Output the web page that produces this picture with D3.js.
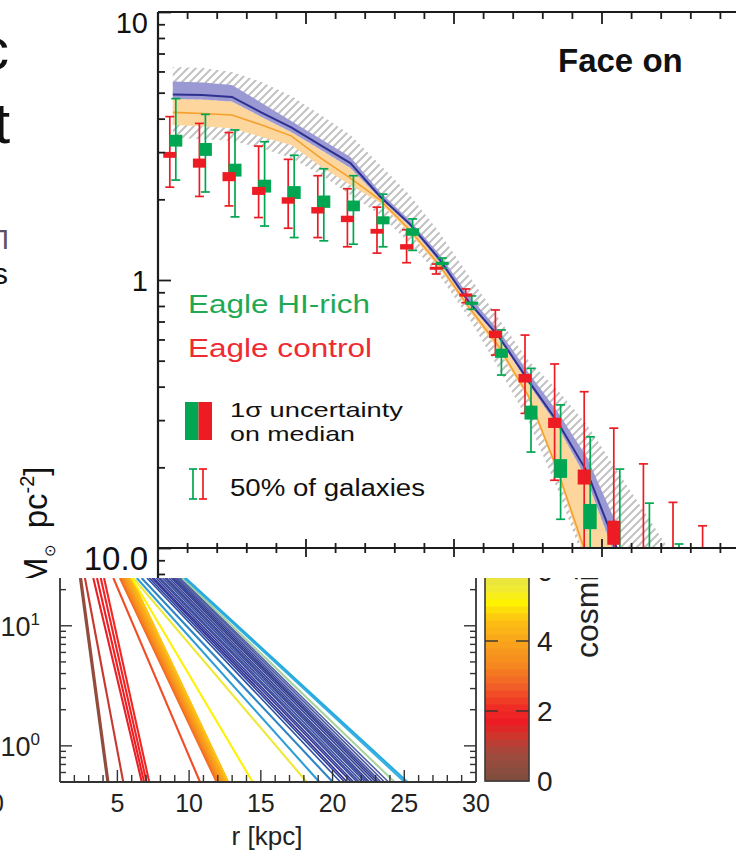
<!DOCTYPE html>
<html>
<head>
<meta charset="utf-8">
<script src="https://cdn.jsdelivr.net/npm/d3@7"></script>
<style>
  html, body { margin: 0; padding: 0; background: #fff; }
  svg { display: block; font-family: "Liberation Sans", Arial, Helvetica, sans-serif; }
</style>
</head>
<body>
<svg id="fig" width="736" height="851"></svg>
<script>
// ------------------------------------------------------------------
// Upper panel: face-on stellar surface density profiles
// ------------------------------------------------------------------
// radial bins (in units of the scale radius)
const binR = [0.1, 0.3, 0.5, 0.7, 0.9, 1.1, 1.3, 1.5, 1.7, 1.9, 2.1, 2.3, 2.5, 2.7, 2.9, 3.1, 3.3, 3.5, 3.7];

// Eagle control sample: median, 25th / 75th percentile, 1-sigma error on median (dex)
const controlMedian = [2.93, 2.73, 2.43, 2.15, 1.98, 1.82, 1.69, 1.52, 1.33, 1.106, 0.879, 0.627, 0.430, 0.293, 0.184, 0.114, 0.085, 0.070, 0.060];
const controlLow    = [2.22, 2.05, 1.89, 1.71, 1.56, 1.44, 1.33, 1.26, 1.16, 1.053, 0.823, 0.525, 0.318, 0.179, 0.090, 0.080, 0.070, 0.060, 0.050];
const controlHigh   = [4.07, 3.84, 3.55, 3.16, 2.82, 2.45, 2.19, 1.87, 1.54, 1.147, 0.926, 0.773, 0.623, 0.486, 0.383, 0.280, 0.206, 0.148, 0.121];
const controlSigma  = [0.011, 0.017, 0.017, 0.015, 0.012, 0.012, 0.012, 0.009, 0.010, 0.004, 0.006, 0.014, 0.016, 0.019, 0.028, 0.045, 0.050, 0.050, 0.050];

// Eagle HI-rich sample
const hiRichMedian = [3.31, 3.07, 2.57, 2.24, 2.12, 1.96, 1.89, 1.67, 1.51, 1.154, 0.819, 0.533, 0.320, 0.198, 0.131, 0.085, 0.070, 0.060, 0.050];
const hiRichLow    = [2.36, 2.13, 1.72, 1.59, 1.44, 1.40, 1.36, 1.33, 1.29, 1.106, 0.777, 0.442, 0.228, 0.128, 0.070, 0.060, 0.050, 0.050, 0.040];
const hiRichHigh   = [4.75, 4.15, 3.63, 3.28, 2.92, 2.60, 2.45, 2.09, 1.69, 1.208, 0.872, 0.651, 0.468, 0.342, 0.260, 0.197, 0.147, 0.1035, 0.090];
const hiRichSigma  = [0.022, 0.024, 0.024, 0.024, 0.024, 0.023, 0.020, 0.015, 0.014, 0.006, 0.006, 0.017, 0.026, 0.035, 0.047, 0.060, 0.060, 0.060, 0.060];

// Observed reference profiles (bands with central line)
const modelR = [0.1, 0.3, 0.5, 0.7, 0.9, 1.1, 1.3, 1.5, 1.7, 1.9, 2.1, 2.3, 2.5, 2.7, 2.9, 3.1];
const blueHigh   = [5.50, 5.46, 5.34, 4.58, 3.92, 3.36, 2.88, 2.13, 1.67, 1.25, 0.872, 0.651, 0.454, 0.322, 0.217, 0.122];
const blueMid    = [4.92, 4.90, 4.82, 4.21, 3.71, 3.18, 2.73, 2.05, 1.62, 1.20, 0.828, 0.618, 0.423, 0.295, 0.192, 0.100];
const blueLow    = [4.74, 4.72, 4.63, 4.06, 3.57, 3.06, 2.62, 2.02, 1.59, 1.17, 0.814, 0.608, 0.413, 0.285, 0.179, 0.090];
const orangeHigh = [4.74, 4.72, 4.63, 4.06, 3.57, 3.06, 2.62, 2.02, 1.59, 1.17, 0.814, 0.608, 0.413, 0.285, 0.179, 0.090];
const orangeMid  = [4.22, 4.18, 4.13, 3.79, 3.45, 2.85, 2.40, 1.99, 1.54, 1.14, 0.793, 0.567, 0.372, 0.195, 0.092, 0.045];
const orangeLow  = [3.79, 3.75, 3.68, 3.42, 3.19, 2.65, 2.26, 1.94, 1.50, 1.11, 0.773, 0.548, 0.363, 0.189, 0.086, 0.042];

// hatched envelope
const hatchR    = [0.1, 0.3, 0.5, 0.7, 0.9, 1.1, 1.3, 1.5, 1.7, 1.9, 2.1, 2.3, 2.5, 2.7, 2.9, 3.1, 3.3, 3.5];
const hatchHigh = [6.23, 6.18, 5.97, 5.48, 4.86, 4.13, 3.48, 2.69, 2.08, 1.51, 1.04, 0.721, 0.503, 0.389, 0.288, 0.195, 0.133, 0.090];
const hatchLow  = [3.39, 3.36, 3.30, 3.11, 2.85, 2.47, 2.08, 1.75, 1.37, 1.04, 0.721, 0.469, 0.300, 0.165, 0.083, 0.042, 0.030, 0.020];

// axis ticks
const yMajorTicks = [0.1, 1, 10];
const yMinorTicks = [0.08, 0.09, 0.2, 0.3, 0.4, 0.5, 0.6, 0.7, 0.8, 0.9, 2, 3, 4, 5, 6, 7, 8, 9];
const yTickLabels = [{ v: 10, t: "10" }, { v: 1, t: "1" }];
const xTickStep = 0.2;
const xMajorEvery = 5;

const legendHiRich  = "Eagle HI-rich";
const legendControl = "Eagle control";
const legendBox1    = "1\u03c3 uncertainty";
const legendBox2    = "on median";
const legendRange   = "50% of galaxies";
const panelTitle    = "Face on";

// ------------------------------------------------------------------
// Lower panel: exponential disc profiles coloured by cosmic time
// Each profile: radius [kpc] where it crosses sigmaTop and sigmaBottom, time [Gyr]
// ------------------------------------------------------------------
const sigmaTop = 25, sigmaBottom = 0.5;
const profTopR = [2.39, 2.47, 2.74, 3.32, 3.58, 3.84, 4.07, 4.72, 5.18, 5.27, 5.36, 5.44, 5.55, 5.63, 5.74, 5.85, 5.97, 6.00, 6.11, 6.35, 6.69,
                  7.06, 7.23, 7.41, 7.52, 7.70, 7.87, 7.98, 8.16, 8.31, 8.42, 8.60, 8.77, 8.90, 9.04, 9.18, 9.33, 9.41, 9.52, 9.66, 9.75];
const profBotR = [4.30, 4.38, 5.41, 6.70, 6.86, 7.03, 7.22, 10.76, 11.92, 12.01, 12.12, 12.20, 12.31, 12.40, 12.52, 12.61, 12.73, 14.43, 18.20, 19.08, 20.01,
                  20.55, 20.84, 21.02, 21.30, 21.47, 21.71, 21.86, 22.05, 22.27, 22.43, 22.58, 22.81, 23.02, 23.19, 23.37, 23.62, 23.90, 24.32, 25.02, 25.22];
const profTime = [0.3, 0.6, 1.2, 1.6, 1.75, 1.9, 2.0, 2.5, 2.9, 3.1, 3.3, 3.5, 3.7, 3.9, 4.1, 4.3, 4.6, 5.1, 5.6, 7.8, 8.2,
                  9.0, 9.3, 9.5, 9.7, 9.9, 10.2, 10.4, 10.6, 10.8, 11.0, 11.1, 11.3, 11.5, 11.7, 11.9, 12.1, 12.3, 12.8, 13.3, 13.6];

const lowXTicks = [5, 10, 15, 20, 25, 30];
const lowYMajor = [1, 10];
const lowYMinor = [0.5, 0.6, 0.7, 0.8, 0.9, 2, 3, 4, 5, 6, 7, 8, 9, 20];
const cbarTicks = [0, 2, 4, 6];
const cbarLabel = "cosmic time [Gyr]";
const lowXLabel = "r [kpc]";

// colour map of cosmic time
const timeStops  = [0, 0.8, 1.3, 1.7, 2.1, 2.7, 3.3, 4.0, 4.6, 5.1, 5.5, 6.0, 7.0, 7.8, 8.6, 9.5, 10.5, 11.5, 12.4, 12.8, 13.3, 13.7];
const timeColors = ["#7c4e3e", "#a04a3c", "#cf352d", "#ed1c24", "#ee2c25", "#f15d26", "#f6861f", "#f9a41b", "#fcc113", "#fff200", "#f1ea32", "#e2df4c",
                    "#86c7a2", "#2d9dd8", "#2f6cb4", "#2e3192", "#3c4f9f", "#2f3a8e", "#5564ab", "#a9d39e", "#38b0e0", "#1fa9e1"];

// ------------------------------------------------------------------
const svg = d3.select("#fig");
const W = 736, H = 851;
const cutY = 578;              // top edge of the lower panel
const ink = "#1c1c1c";
const green = "#00a651", red = "#ed1c24";

svg.append("rect").attr("width", W).attr("height", H).attr("fill", "#fff");

const xMain = d3.scaleLinear().domain([0, 4]).range([158, 750]);
const yMain = d3.scaleLog().domain([0.1, 10]).range([548, 12]);

const defs = svg.append("defs");
defs.append("clipPath").attr("id", "clipMain").append("rect")
  .attr("x", xMain(0)).attr("y", yMain(10))
  .attr("width", W - xMain(0)).attr("height", yMain(0.1) - yMain(10));

const pat = defs.append("pattern").attr("id", "hatch")
  .attr("patternUnits", "userSpaceOnUse").attr("width", 8).attr("height", 8);
pat.append("path").attr("d", "M-2,2 L2,-2 M0,8 L8,0 M6,10 L10,6")
  .attr("stroke", "#c2c2c2").attr("stroke-width", 2);

// ---- model bands ----
const plot = svg.append("g").attr("clip-path", "url(#clipMain)");

const band = (rs, lo, hi) => d3.area()
  .x((d, i) => xMain(rs[i])).y0((d, i) => yMain(lo[i])).y1((d, i) => yMain(hi[i]))(rs);
const curve = (rs, v) => d3.line().x((d, i) => xMain(rs[i])).y((d, i) => yMain(v[i]))(rs);

plot.append("path").attr("d", band(hatchR, hatchLow, hatchHigh)).attr("fill", "url(#hatch)");
plot.append("path").attr("d", band(modelR, orangeLow, orangeHigh)).attr("fill", "#fdd69e");
plot.append("path").attr("d", band(modelR, blueLow, blueHigh)).attr("fill", "#9b99d3");
plot.append("path").attr("d", curve(modelR, orangeMid)).attr("fill", "none")
  .attr("stroke", "#f6a02c").attr("stroke-width", 1.6);
plot.append("path").attr("d", curve(modelR, blueMid)).attr("fill", "none")
  .attr("stroke", "#2f3190").attr("stroke-width", 2);

// ---- binned medians ----
function errorBars(g, med, lo, hi, color, dx) {
  const gg = g.append("g").attr("stroke", color).attr("stroke-width", 1.7).attr("fill", "none");
  binR.forEach((r, i) => {
    const x = xMain(r) + dx;
    gg.append("line").attr("x1", x).attr("x2", x).attr("y1", yMain(lo[i])).attr("y2", yMain(hi[i]));
    gg.append("line").attr("x1", x - 4.5).attr("x2", x + 4.5).attr("y1", yMain(lo[i])).attr("y2", yMain(lo[i]));
    gg.append("line").attr("x1", x - 4.5).attr("x2", x + 4.5).attr("y1", yMain(hi[i])).attr("y2", yMain(hi[i]));
  });
}
function medianBoxes(g, med, sig, color, dx) {
  binR.forEach((r, i) => {
    const top = yMain(med[i] * Math.pow(10, sig[i]));
    const bot = yMain(med[i] / Math.pow(10, sig[i]));
    const h = Math.max(bot - top, 3);
    const yc = (top + bot) / 2;
    g.append("rect").attr("x", xMain(r) + dx - 6.5).attr("width", 13)
      .attr("y", yc - h / 2).attr("height", h).attr("fill", color);
  });
}
errorBars(plot, hiRichMedian, hiRichLow, hiRichHigh, green, 3);
errorBars(plot, controlMedian, controlLow, controlHigh, red, -3);
medianBoxes(plot, hiRichMedian, hiRichSigma, green, 3);
medianBoxes(plot, controlMedian, controlSigma, red, -3);

// ---- axes ----
const axes = svg.append("g").attr("stroke", ink).attr("fill", "none");
// frame
axes.append("line").attr("x1", xMain(0)).attr("x2", W).attr("y1", yMain(10)).attr("y2", yMain(10)).attr("stroke-width", 2.2);
axes.append("line").attr("x1", xMain(0)).attr("x2", W).attr("y1", yMain(0.1)).attr("y2", yMain(0.1)).attr("stroke-width", 2.2);
axes.append("line").attr("x1", xMain(0)).attr("x2", xMain(0)).attr("y1", yMain(10)).attr("y2", cutY).attr("stroke-width", 2.2);

const xTicks = d3.range(0, 20).map(i => ({ v: i * xTickStep, major: i % xMajorEvery === 0 }));
xTicks.filter(d => d.v > 0).forEach(d => {
  const x = xMain(d.v);
  axes.append("line").attr("x1", x).attr("x2", x)
    .attr("y1", yMain(10)).attr("y2", yMain(10) + (d.major ? 12 : 7)).attr("stroke-width", 1.8);
  const s = d.major ? 9 : 5;
  axes.append("line").attr("x1", x).attr("x2", x)
    .attr("y1", yMain(0.1) - s).attr("y2", yMain(0.1) + s).attr("stroke-width", 1.8);
});
const yAxisG = svg.append("g").attr("transform", `translate(${xMain(0)},0)`);
yAxisG.call(d3.axisRight(yMain).tickValues(yMinorTicks).tickSize(7).tickFormat(""));
yAxisG.call(g => g.select(".domain").remove());
const yAxisMajor = svg.append("g").attr("transform", `translate(${xMain(0)},0)`);
yAxisMajor.call(d3.axisRight(yMain).tickValues(yMajorTicks).tickSize(13).tickFormat(""));
yAxisMajor.call(g => g.select(".domain").remove());
svg.selectAll(".tick line").attr("stroke", ink).attr("stroke-width", 1.8);

const labels = svg.append("g").attr("fill", "#111").attr("font-size", 29);
labels.append("text").attr("x", 148).attr("y", yMain(10) + 21).attr("text-anchor", "end").text(yTickLabels[0].t);
labels.append("text").attr("x", 148).attr("y", yMain(1) + 11).attr("text-anchor", "end").text(yTickLabels[1].t);

// title
svg.append("text").attr("x", 558).attr("y", 72).attr("font-size", 33).attr("font-weight", "bold")
  .attr("fill", "#111").text(panelTitle);

// ---- legend ----
const lg = svg.append("g");
lg.append("text").attr("x", 188).attr("y", 313).attr("font-size", 25).attr("fill", "#1fa955")
  .attr("textLength", 182).attr("lengthAdjust", "spacingAndGlyphs").text(legendHiRich);
lg.append("text").attr("x", 188).attr("y", 357).attr("font-size", 25).attr("fill", "#ee2b33")
  .attr("textLength", 184).attr("lengthAdjust", "spacingAndGlyphs").text(legendControl);
lg.append("rect").attr("x", 185).attr("y", 402).attr("width", 13.5).attr("height", 38).attr("fill", green);
lg.append("rect").attr("x", 198.5).attr("y", 402).attr("width", 13.5).attr("height", 38).attr("fill", red);
lg.append("text").attr("x", 230).attr("y", 417).attr("font-size", 21).attr("fill", "#111")
  .attr("textLength", 173).attr("lengthAdjust", "spacingAndGlyphs").text(legendBox1);
lg.append("text").attr("x", 230).attr("y", 441).attr("font-size", 21).attr("fill", "#111")
  .attr("textLength", 125).attr("lengthAdjust", "spacingAndGlyphs").text(legendBox2);
[[193, green], [203, red]].forEach(([x, c]) => {
  const g = lg.append("g").attr("stroke", c).attr("stroke-width", 1.7);
  g.append("line").attr("x1", x).attr("x2", x).attr("y1", 469).attr("y2", 499);
  g.append("line").attr("x1", x - 4).attr("x2", x + 4).attr("y1", 469).attr("y2", 469);
  g.append("line").attr("x1", x - 4).attr("x2", x + 4).attr("y1", 499).attr("y2", 499);
});
lg.append("text").attr("x", 230).attr("y", 496).attr("font-size", 23).attr("fill", "#111")
  .attr("textLength", 195).attr("lengthAdjust", "spacingAndGlyphs").text(legendRange);

// ---- y-axis title (rotated, reads upward from the lower edge) ----
const ytg = svg.append("g").attr("transform", "translate(47,585) rotate(-90)").attr("fill", "#111");
ytg.append("text").attr("text-anchor", "end").attr("font-size", 33).text("\u03a3 [");
const yt = ytg.append("text").attr("font-size", 33);
yt.append("tspan").text("M");
yt.append("tspan").attr("font-size", 15).attr("dy", 8).attr("dx", 1).text("\u2299");
yt.append("tspan").attr("dy", -8).attr("dx", 6).text(" pc");
yt.append("tspan").attr("font-size", 20).attr("dy", -13).text("-2");
yt.append("tspan").attr("dy", 13).text("]");

svg.append("text").attr("x", 148).attr("y", 570).attr("text-anchor", "end")
  .attr("font-size", 33).attr("fill", "#111").text("10.0");

// fragments of neighbouring text on the left margin
const frag = svg.append("g").attr("fill", "#111");
frag.append("text").attr("x", 9).attr("y", 69).attr("text-anchor", "end").attr("font-size", 58).text("c");
frag.append("text").attr("x", 10).attr("y", 143).attr("text-anchor", "end").attr("font-size", 58).text("t");
frag.append("text").attr("x", 9).attr("y", 249).attr("text-anchor", "end").attr("font-size", 28).attr("fill", "#5d4f66").text("\u03a0");
frag.append("text").attr("x", 8).attr("y", 284).attr("text-anchor", "end").attr("font-size", 30).text("s");

// ------------------------------------------------------------------
// Lower panel
// ------------------------------------------------------------------
const low = svg.append("g");
low.append("rect").attr("x", 0).attr("y", cutY).attr("width", W).attr("height", H - cutY).attr("fill", "#fff");

const xLow = d3.scaleLinear().domain([1, 30]).range([60, 476]);
const yLow = d3.scaleLog().domain([sigmaBottom, sigmaTop]).range([782, cutY]);
const timeColor = d3.scaleLinear().domain(timeStops).range(timeColors).clamp(true);

defs.append("clipPath").attr("id", "clipLow").append("rect")
  .attr("x", xLow(1)).attr("y", cutY).attr("width", xLow(30) - xLow(1)).attr("height", yLow(sigmaBottom) - cutY);
defs.append("clipPath").attr("id", "clipLowAll").append("rect")
  .attr("x", 0).attr("y", cutY).attr("width", W).attr("height", H - cutY);

const lp = low.append("g").attr("clip-path", "url(#clipLow)");
profTopR.forEach((r0, i) => {
  lp.append("line")
    .attr("x1", xLow(r0)).attr("y1", yLow(sigmaTop))
    .attr("x2", xLow(profBotR[i])).attr("y2", yLow(sigmaBottom))
    .attr("stroke", timeColor(profTime[i]))
    .attr("stroke-width", profTime[i] > 8.8 && profTime[i] < 12.5 ? 1.6 : 2.1);
});

// frame and ticks
const lax = low.append("g").attr("stroke", "#333").attr("fill", "none");
lax.append("line").attr("x1", xLow(1)).attr("x2", xLow(1)).attr("y1", cutY).attr("y2", yLow(sigmaBottom)).attr("stroke-width", 1.8);
lax.append("line").attr("x1", xLow(30)).attr("x2", xLow(30)).attr("y1", cutY).attr("y2", yLow(sigmaBottom)).attr("stroke-width", 1.8);
lax.append("line").attr("x1", xLow(1)).attr("x2", xLow(30)).attr("y1", yLow(sigmaBottom)).attr("y2", yLow(sigmaBottom)).attr("stroke-width", 1.8);
d3.range(2, 30).forEach(v => {
  const big = v % 5 === 0;
  lax.append("line").attr("x1", xLow(v)).attr("x2", xLow(v))
    .attr("y1", yLow(sigmaBottom)).attr("y2", yLow(sigmaBottom) - (big ? 12 : 7)).attr("stroke-width", 1.4);
});
[[lowYMajor, 12], [lowYMinor, 6]].forEach(([vals, len]) => {
  vals.forEach(v => {
    lax.append("line").attr("x1", xLow(1)).attr("x2", xLow(1) + len).attr("y1", yLow(v)).attr("y2", yLow(v)).attr("stroke-width", 1.4);
    lax.append("line").attr("x1", xLow(30)).attr("x2", xLow(30) - len).attr("y1", yLow(v)).attr("y2", yLow(v)).attr("stroke-width", 1.4);
  });
});

const ll = low.append("g").attr("fill", "#222");
lowXTicks.forEach(v => {
  ll.append("text").attr("x", xLow(v)).attr("y", 812).attr("text-anchor", "middle").attr("font-size", 25).text(v);
});
ll.append("text").attr("x", 4).attr("y", 812).attr("text-anchor", "end").attr("font-size", 25).text("0");
lowYMajor.forEach(v => {
  const t = ll.append("text").attr("x", 40).attr("y", yLow(v) + 10).attr("text-anchor", "end").attr("font-size", 27);
  t.append("tspan").text("10");
  t.append("tspan").attr("font-size", 17).attr("dy", -11).text(Math.round(Math.log10(v)));
});
ll.append("text").attr("x", 267).attr("y", 845).attr("text-anchor", "middle").attr("font-size", 26).text(lowXLabel);

// colour bar
const yCbar = d3.scaleLinear().domain([0, 6]).range([781, 571]);
const cb = low.append("g").attr("clip-path", "url(#clipLowAll)");
d3.range(0, 33).map(i => i * 0.2).forEach(v => {
  cb.append("rect").attr("x", 485).attr("width", 44)
    .attr("y", yCbar(v + 0.2)).attr("height", yCbar(v) - yCbar(v + 0.2) + 0.5)
    .attr("fill", timeColor(v + 0.1));
});
cb.append("rect").attr("x", 485).attr("width", 44).attr("y", yCbar(6.6)).attr("height", yCbar(0) - yCbar(6.6))
  .attr("fill", "none").attr("stroke", "#3a3a3a").attr("stroke-width", 1.6);
cbarTicks.filter(v => v > 0).forEach(v => {
  cb.append("line").attr("x1", 485).attr("x2", 498).attr("y1", yCbar(v)).attr("y2", yCbar(v)).attr("stroke", "#333").attr("stroke-width", 1.4);
  cb.append("line").attr("x1", 516).attr("x2", 529).attr("y1", yCbar(v)).attr("y2", yCbar(v)).attr("stroke", "#333").attr("stroke-width", 1.4);
});
cbarTicks.forEach(v => {
  cb.append("text").attr("x", 537).attr("y", yCbar(v) + 10).attr("font-size", 28).attr("fill", "#222").text(v);
});
cb.append("text").attr("transform", "translate(598,658) rotate(-90)").attr("font-size", 32).attr("fill", "#222").text(cbarLabel);
</script>
</body>
</html>
